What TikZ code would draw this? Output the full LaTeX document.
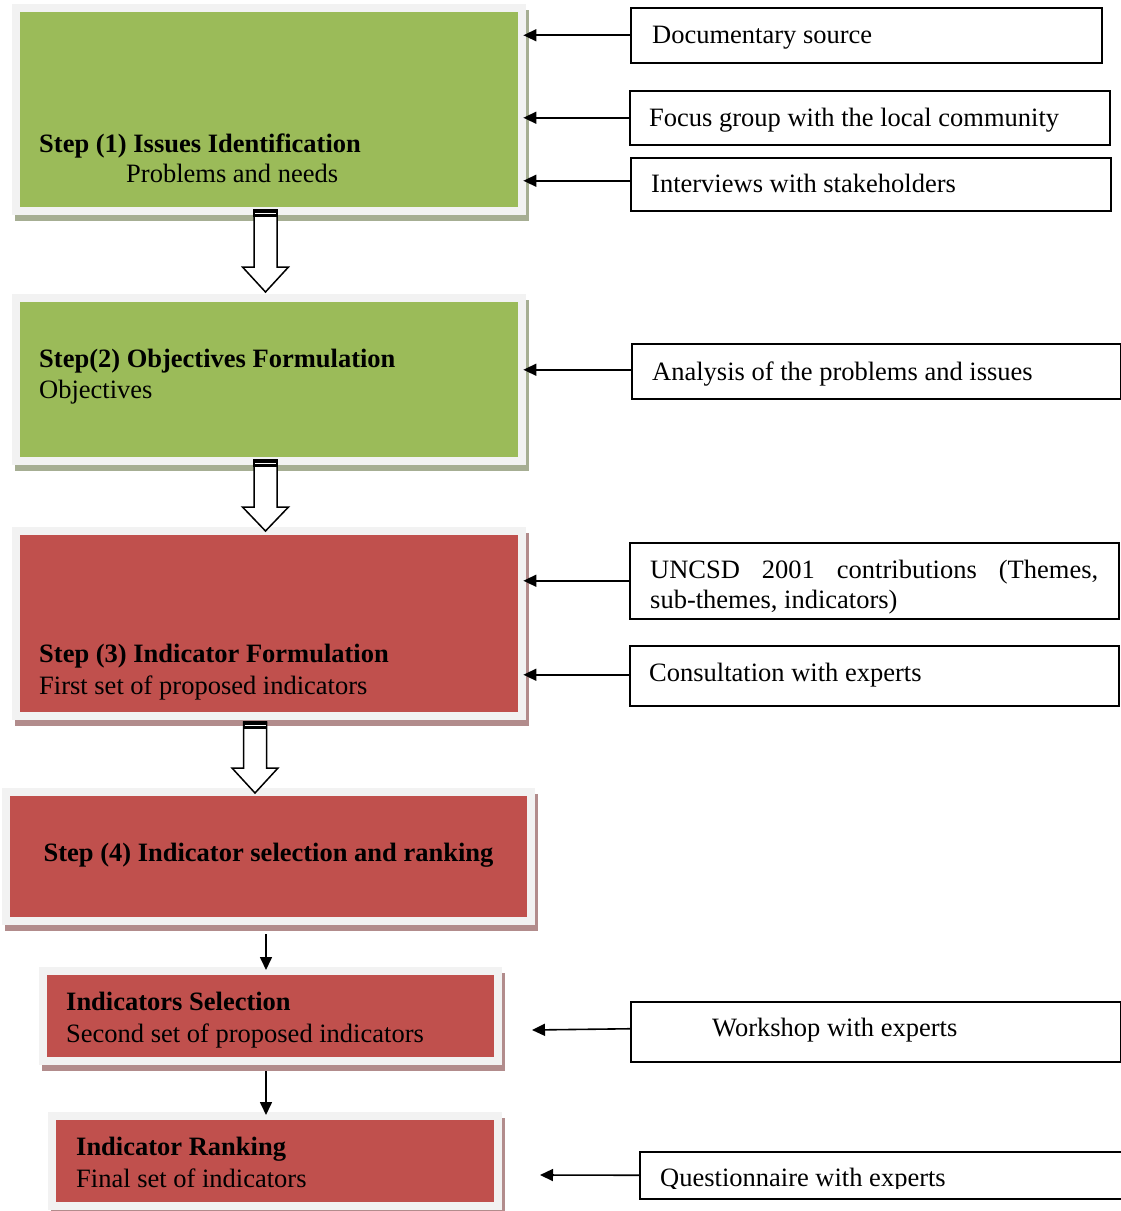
\documentclass[tikz,border=0pt]{standalone}
\usepackage{fontspec}
\setmainfont{Liberation Serif}
\usetikzlibrary{arrows.meta,calc}
\definecolor{stepgreen}{HTML}{9BBB59}
\definecolor{stepred}{HTML}{C0504D}
\definecolor{framegray}{HTML}{F2F2F2}
\definecolor{greenshadow}{HTML}{A6AE93}
\definecolor{redshadow}{HTML}{B28C8C}
\tikzset{
  txt/.style={inner sep=0pt, font=\fontsize{26.5}{30}\selectfont},
  srcbox/.style={draw=black, line width=1.5pt, fill=white, inner sep=0pt, anchor=north west},
  fillbox/.style={inner sep=0pt, anchor=north west, draw=none},
  conn/.style={line width=1.6pt, -{Triangle[length=13pt,width=12pt]}},
  hollow/.style={draw=black, line width=1.5pt, fill=white, line join=miter},
}
% \stepframe{name}{x1}{y1}{x2}{y2}{fill}{shadow}{frame margin}
\newcommand\stepframe[8]{%
  \fill[#7] ($(#2,#3)+(-#8,-#8)+(3,6)$) rectangle ($(#4,#5)+(#8,#8)+(3,6)$);
  \node[fillbox, fill=framegray, minimum width={#4-#2+2*#8}, minimum height={#5-#3+2*#8}] (#1f) at ($(#2,#3)+(-#8,-#8)$) {};
  \node[fillbox, fill=#6, minimum width={#4-#2}, minimum height={#5-#3}] (#1) at (#2,#3) {};
}
% \hollowarrow{cx}{top}{headtop}{tip}
\newcommand\hollowarrow[4]{%
  \draw[hollow] (#1-11.5,#2) -- (#1+11.5,#2) -- (#1+11.5,#3) -- (#1+23,#3) -- (#1,#4) -- (#1-23,#3) -- (#1-11.5,#3) -- cycle;
  \fill[black] (#1-12.25,#2-0.75) rectangle (#1+12.25,#2+7);
  \draw[white, line width=1pt] (#1-10.5,#2+3.3) -- (#1+10.5,#2+3.3);
}
\begin{document}
\begin{tikzpicture}[x=1pt,y=-1pt]
\useasboundingbox[fill=white] (0,0) rectangle (1121,1211);

% ---------- left step boxes ----------
\stepframe{b1}{20}{12}{518}{207}{stepgreen}{greenshadow}{8}
\stepframe{b2}{20}{302}{518}{457}{stepgreen}{greenshadow}{8}
\stepframe{b3}{20}{535}{518}{712}{stepred}{redshadow}{8}
\stepframe{b4}{10}{796}{527}{917}{stepred}{redshadow}{8}
\stepframe{b5}{47}{975}{494}{1057}{stepred}{redshadow}{8}
\stepframe{b6}{56}{1120}{494}{1202}{stepred}{redshadow}{8}

% texts of step boxes
\node[txt, anchor=base west] (t1a) at (39,152) {\bfseries Step (1) Issues Identification};
\node[txt, anchor=base west] (t1b) at (126,182) {Problems and needs};
\node[txt, anchor=base west] (t2a) at (39,367) {\bfseries Step(2) Objectives Formulation};
\node[txt, anchor=base west] (t2b) at (39,398) {Objectives};
\node[txt, anchor=base west] (t3a) at (39,662) {\bfseries Step (3) Indicator Formulation};
\node[txt, anchor=base west] (t3b) at (39,694) {First set of proposed indicators};
\node[txt, anchor=base] (t4a) at (268.5,861) {\bfseries Step (4) Indicator selection and ranking};
\node[txt, anchor=base west] (t5a) at (66,1010) {\bfseries Indicators Selection};
\node[txt, anchor=base west] (t5b) at (66,1042) {Second set of proposed indicators};
\node[txt, anchor=base west] (t6a) at (76,1155) {\bfseries Indicator Ranking};
\node[txt, anchor=base west] (t6b) at (76,1187) {Final set of indicators};

% ---------- hollow block arrows between steps ----------
\hollowarrow{265.5}{210}{267}{292}
\hollowarrow{265.5}{460}{507}{531}
\hollowarrow{255}{722}{768}{793}

% ---------- thin arrows between sub-steps ----------
\coordinate (a4s) at (266,934);
\coordinate (a5s) at (266,1071);
\draw[conn] (a4s) -- ([yshift=-3pt]a4s |- b5f.north);
\draw[conn] (a5s) -- ([yshift=-3pt]a5s |- b6f.north);

% ---------- source boxes ----------
\node[srcbox, minimum width=471pt, minimum height=55pt] (r1) at (630,7) {};
\node[srcbox, minimum width=480pt, minimum height=54pt] (r2) at (629,90) {};
\node[srcbox, minimum width=480pt, minimum height=53pt] (r3) at (630,157) {};
\node[srcbox, minimum width=489pt, minimum height=55pt] (r4) at (631,343) {};
\node[srcbox, minimum width=489pt, minimum height=76pt] (r5) at (629,542) {};
\node[srcbox, minimum width=489pt, minimum height=60pt] (r6) at (629,645) {};
\node[srcbox, minimum width=490pt, minimum height=60pt] (r7) at (630,1001) {};
\node[srcbox, minimum width=500pt, minimum height=47pt] (r8) at (639,1151) {};

\node[txt, anchor=base west] (s1) at (652,43) {Documentary source};
\node[txt, anchor=base west] (s2) at (649,126) {Focus group with the local community};
\node[txt, anchor=base west] (s3) at (651,192) {Interviews with stakeholders};
\node[txt, anchor=base west] (s4) at (652,380) {Analysis of the problems and issues};
\node[txt, anchor=base west] (s5a) at (650,578) {\makebox[448pt][s]{UNCSD 2001 contributions (Themes,}};
\node[txt, anchor=base west] (s5b) at (650,608) {sub-themes, indicators)};
\node[txt, anchor=base west] (s6) at (649,681) {Consultation with experts};
\node[txt, anchor=base west] (s7) at (712,1036) {Workshop with experts};
\begin{scope}
  \clip (640,1152) rectangle (1121,1188);
  \node[txt, anchor=base west] (s8) at (660,1186) {Questionnaire with experts};
\end{scope}

% ---------- connectors from sources ----------
\draw[conn] (r1.west) -- ([xshift=5pt]r1.west -| b1.east);
\draw[conn] (r2.west) -- ([xshift=5pt]r2.west -| b1.east);
\draw[conn] ([yshift=3.5pt]r3.west) -- ([xshift=5pt,yshift=3.5pt]r3.west -| b1.east);
\draw[conn] ([yshift=1.5pt]r4.west) -- ([xshift=5pt,yshift=1.5pt]r4.west -| b2.east);
\draw[conn] (r5.west) -- ([xshift=5pt]r5.west -| b3.east);
\draw[conn] ([yshift=1pt]r6.west) -- ([xshift=5pt,yshift=1pt]r6.west -| b3.east);
\coordinate (t7) at (532,1030);
\coordinate (t8) at (540,1175);
\draw[conn] ([yshift=3pt]r7.west) -- (t7);
\draw[conn] (r8.west) -- (t8);
\end{tikzpicture}
\end{document}
